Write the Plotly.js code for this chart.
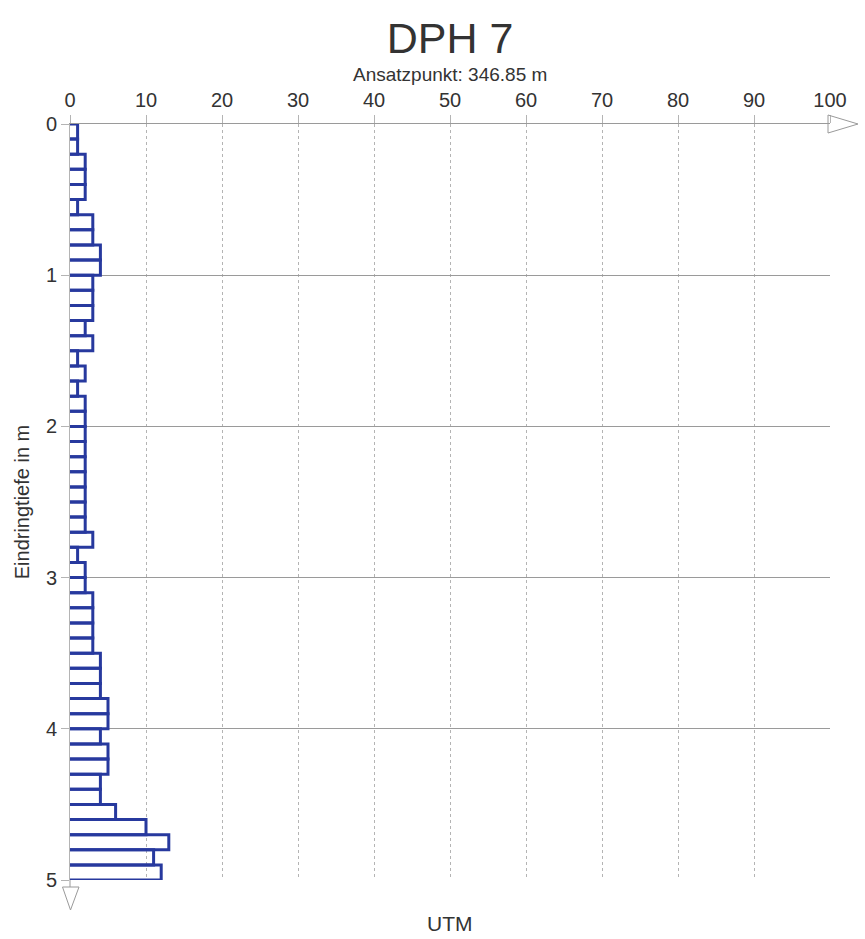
<!DOCTYPE html>
<html>
<head>
<meta charset="utf-8">
<script src="https://cdn.plot.ly/plotly-3.0.1.min.js"></script>
<style>html,body{margin:0;padding:0;background:#fff;}#chart{width:865px;height:939px;}</style>
</head>
<body>
<div id="chart"></div>
<script>
// Depth intervals (top / bottom of each 10 cm step, m)
const depthFrom = [0.0,0.1,0.2,0.3,0.4,0.5,0.6,0.7,0.8,0.9,
                   1.0,1.1,1.2,1.3,1.4,1.5,1.6,1.7,1.8,1.9,
                   2.0,2.1,2.2,2.3,2.4,2.5,2.6,2.7,2.8,2.9,
                   3.0,3.1,3.2,3.3,3.4,3.5,3.6,3.7,3.8,3.9,
                   4.0,4.1,4.2,4.3,4.4,4.5,4.6,4.7,4.8,4.9];
const depthTo   = [0.1,0.2,0.3,0.4,0.5,0.6,0.7,0.8,0.9,1.0,
                   1.1,1.2,1.3,1.4,1.5,1.6,1.7,1.8,1.9,2.0,
                   2.1,2.2,2.3,2.4,2.5,2.6,2.7,2.8,2.9,3.0,
                   3.1,3.2,3.3,3.4,3.5,3.6,3.7,3.8,3.9,4.0,
                   4.1,4.2,4.3,4.4,4.5,4.6,4.7,4.8,4.9,5.0];
// Blows per 10 cm (UTM)
const blows = [1,1,2,2,2,1,3,3,4,4,
               3,3,3,2,3,1,2,1,2,2,
               2,2,2,2,2,2,2,3,1,2,
               2,3,3,3,3,4,4,4,5,5,
               4,5,5,4,4,6,10,13,11,12];
const xTickVals = [0,10,20,30,40,50,60,70,80,90,100];
const yTickVals = [0,1,2,3,4,5];
const titleText = "DPH 7";
const subtitleText = "Ansatzpunkt: 346.85 m";
const xTitleText = "UTM";
const yTitleText = "Eindringtiefe in m";

// Build outlined step bars (open on the left side) from the data
const xs = [], ys = [];
for (let i = 0; i < blows.length; i++) {
  xs.push(0, blows[i], blows[i], 0, null);
  ys.push(depthFrom[i], depthFrom[i], depthTo[i], depthTo[i], null);
}

const barColor = '#27399e';
const gridColor = '#b4b4b4';
const txt = '#333333';
const font = 'Liberation Sans, Arial, sans-serif';

const traces = [{
  type: 'scatter', mode: 'lines', x: xs, y: ys,
  line: {color: barColor, width: 3}, hoverinfo: 'skip', showlegend: false
}];

const L = 70, R = 830, T = 124, B = 880;
const px = v => (v - L) / (R - L);
const py = v => (B - v) / (B - T);

const layout = {
  width: 865, height: 939,
  margin: {l: L, r: 865 - R, t: T, b: 939 - B},
  paper_bgcolor: '#fff', plot_bgcolor: '#fff',
  font: {family: font, color: txt, size: 20},
  showlegend: false,
  title: {text: titleText, font: {size: 43, color: txt, family: font},
          x: 0.5, xanchor: 'center', xref: 'paper', y: 1 - 38/939, yanchor: 'middle', yref: 'container'},
  xaxis: {
    side: 'top', range: [0, 100], tickvals: xTickVals, ticktext: xTickVals.map(String),
    showgrid: true, gridcolor: gridColor, gridwidth: 1, griddash: 'dot',
    showline: true, linecolor: '#9a9a9a', linewidth: 1, mirror: false,
    ticks: 'outside', ticklen: 8, tickcolor: gridColor, tickfont: {size: 20, color: txt},
    zeroline: false, fixedrange: true
  },
  yaxis: {
    range: [5, 0], tickvals: yTickVals, ticktext: yTickVals.map(String),
    showgrid: true, gridcolor: '#9a9a9a', gridwidth: 1,
    showline: true, linecolor: gridColor, linewidth: 1, griddash: 'solid',
    ticks: 'outside', ticklen: 8, tickcolor: gridColor, tickfont: {size: 20, color: txt},
    zeroline: false, fixedrange: true,
    title: {text: yTitleText, font: {size: 20, color: txt}, standoff: 10}
  },
  annotations: [
    {text: subtitleText, xref: 'paper', yref: 'paper', x: 0.5, y: py(75), xanchor: 'center', yanchor: 'middle',
     showarrow: false, font: {size: 19, color: txt}},
    {text: xTitleText, xref: 'paper', yref: 'paper', x: 0.5, y: py(923), xanchor: 'center', yanchor: 'middle',
     showarrow: false, font: {size: 21, color: txt}}
  ],
  shapes: [
    // right-pointing open arrow at end of top axis
    {type: 'path', xref: 'paper', yref: 'paper',
     path: `M ${px(828)} ${py(115)} L ${px(858)} ${py(124)} L ${px(828)} ${py(133)} Z`,
     line: {color: '#9a9a9a', width: 1}, fillcolor: 'rgba(0,0,0,0)'},
    // downward open arrow at end of left axis
    {type: 'line', xref: 'paper', yref: 'paper', x0: 0, x1: 0, y0: 0, y1: py(887),
     line: {color: '#9a9a9a', width: 1}},
    {type: 'path', xref: 'paper', yref: 'paper',
     path: `M ${px(62.5)} ${py(887)} L ${px(79)} ${py(887)} L ${px(70.5)} ${py(910)} Z`,
     line: {color: '#9a9a9a', width: 1}, fillcolor: 'rgba(0,0,0,0)'}
  ]
};

Plotly.newPlot('chart', traces, layout, {staticPlot: true, displayModeBar: false});
</script>
</body>
</html>
